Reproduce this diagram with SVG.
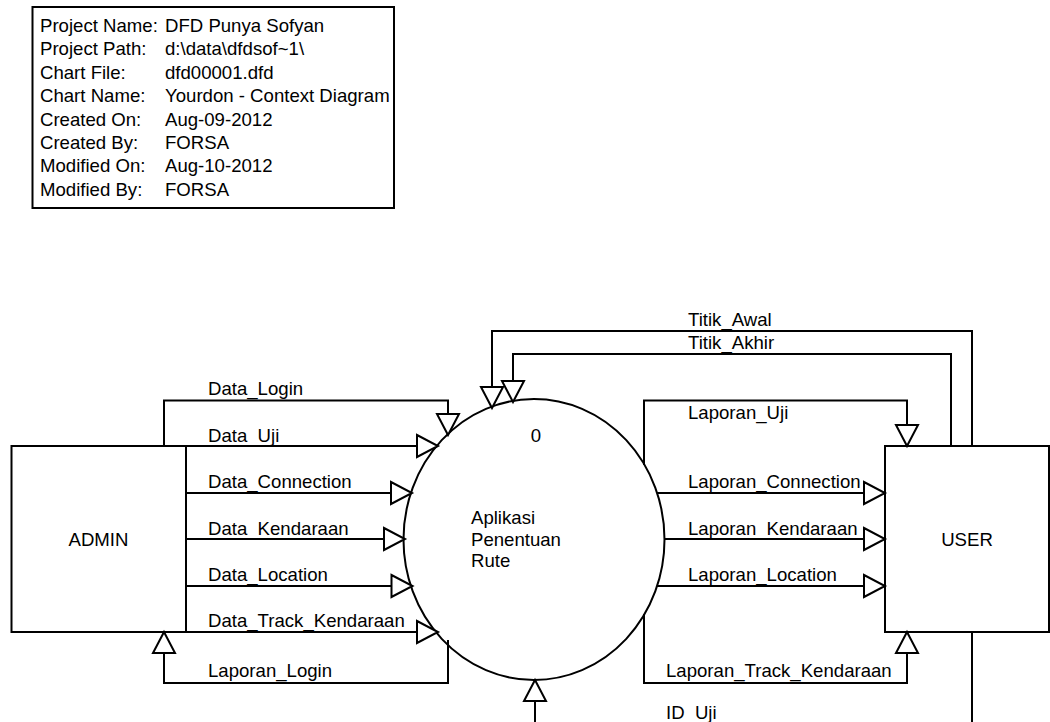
<svg xmlns="http://www.w3.org/2000/svg" width="1050" height="722" viewBox="0 0 1050 722">
<style>
text{font-family:"Liberation Sans",Arial,sans-serif;font-size:18.6px;fill:#000}
.box{fill:#fff;stroke:#000;stroke-width:2}
.c{fill:none;stroke:#000;stroke-width:2;marker-end:url(#arr)}
.mid{text-anchor:middle}
</style>
<defs>
<marker id="arr" viewBox="0 0 23 22" markerWidth="23" markerHeight="22" refX="22" refY="11" orient="auto" markerUnits="userSpaceOnUse" style="overflow:visible">
<path d="M1,0 L22,11 L1,22 Z" fill="#fff" stroke="#000" stroke-width="2"/>
</marker>
</defs>
<rect width="1050" height="722" fill="#fff"/>
<g id="info">
<rect class="box" x="32.5" y="7" width="361.5" height="201"/>
<text x="40" y="32">Project Name:</text><text x="165" y="32">DFD Punya Sofyan</text>
<text x="40" y="55.4">Project Path:</text><text x="165" y="55.4">d:\data\dfdsof~1\</text>
<text x="40" y="78.8">Chart File:</text><text x="165" y="78.8">dfd00001.dfd</text>
<text x="40" y="102.2">Chart Name:</text><text x="165" y="102.2">Yourdon - Context Diagram</text>
<text x="40" y="125.6">Created On:</text><text x="165" y="125.6">Aug-09-2012</text>
<text x="40" y="149">Created By:</text><text x="165" y="149">FORSA</text>
<text x="40" y="172.4">Modified On:</text><text x="165" y="172.4">Aug-10-2012</text>
<text x="40" y="195.8">Modified By:</text><text x="165" y="195.8">FORSA</text>
</g>
<g id="admin">
<rect class="box" x="11.5" y="446" width="174.5" height="186"/>
<text class="mid" x="98.5" y="546">ADMIN</text>
</g>
<g id="user">
<rect class="box" x="885" y="446" width="164" height="186"/>
<text class="mid" x="967" y="546">USER</text>
</g>
<g id="process">
<ellipse class="box" cx="534" cy="539.5" rx="130.5" ry="140.5"/>
<text class="mid" x="536" y="442">0</text>
<text x="471" y="524">Aplikasi</text>
<text x="471" y="545.5">Penentuan</text>
<text x="471" y="567">Rute</text>
</g>
<g id="connectors">
<path class="c" d="M164,446 V400.5 H448 V435"/>
<path class="c" d="M186,446 H438"/>
<path class="c" d="M186,493 H412"/>
<path class="c" d="M186,539 H405"/>
<path class="c" d="M186,586 H412.5"/>
<path class="c" d="M186,632 H438"/>
<path class="c" d="M448,640 V683 H164 V632"/>
<path class="c" d="M972,446 V331 H492 V408"/>
<path class="c" d="M951,446 V354 H513 V402"/>
<path class="c" d="M644,465 V400.5 H907 V446"/>
<path class="c" d="M657,493 H885"/>
<path class="c" d="M664.5,539 H885"/>
<path class="c" d="M657,586 H885"/>
<path class="c" d="M644,614 V683 H907 V632"/>
<path class="c" d="M972,632 V745 H535 V680"/>
<text x="208" y="395">Data_Login</text>
<text x="208" y="441.5">Data_Uji</text>
<text x="208" y="488">Data_Connection</text>
<text x="208" y="535">Data_Kendaraan</text>
<text x="208" y="581">Data_Location</text>
<text x="208" y="627">Data_Track_Kendaraan</text>
<text x="208" y="677">Laporan_Login</text>
<text x="688" y="325.5">Titik_Awal</text>
<text x="688" y="348.5">Titik_Akhir</text>
<text x="688" y="419">Laporan_Uji</text>
<text x="688" y="488">Laporan_Connection</text>
<text x="688" y="535">Laporan_Kendaraan</text>
<text x="688" y="581">Laporan_Location</text>
<text x="666" y="677">Laporan_Track_Kendaraan</text>
<text x="666" y="719">ID_Uji</text>
</g>
</svg>
